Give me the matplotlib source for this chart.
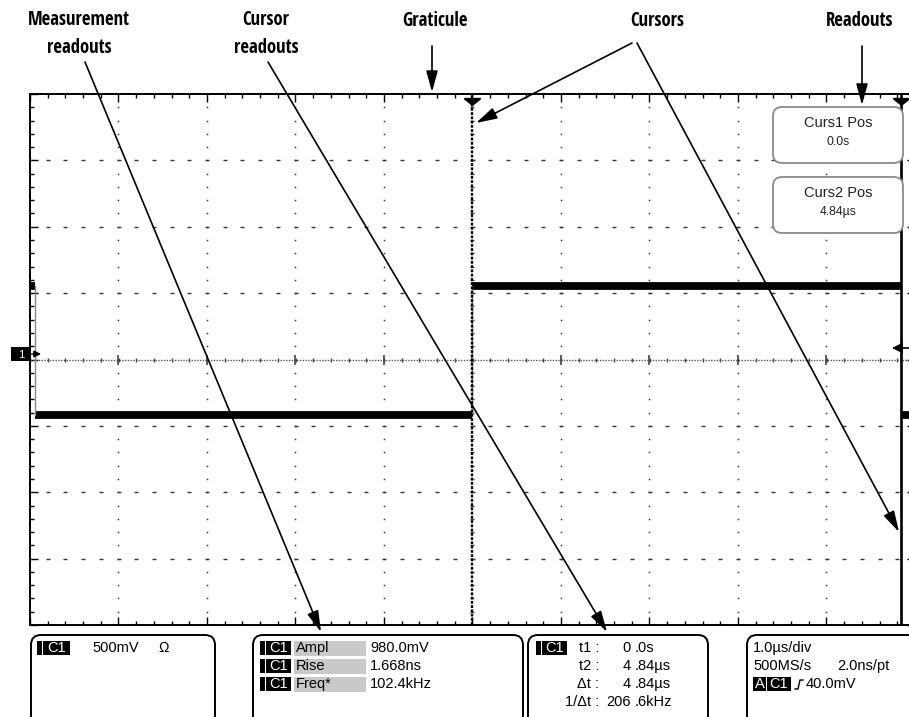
import numpy as np
import matplotlib
matplotlib.use("Agg")
import matplotlib.pyplot as plt
from matplotlib import font_manager
from matplotlib.patches import FancyBboxPatch, Rectangle

# ---------------- data ----------------
# waveform (time in µs = horizontal divisions, level in vertical divisions)
high_level = 1.10
low_level = -0.84
edge_times = [-4.94, 0.0, 4.84]          # fall, rise, fall
seg_start = [-5.0, -4.94, 0.0, 4.84]
seg_end = [-4.94, 0.0, 4.84, 5.0]
seg_level = [high_level, low_level, high_level, low_level]

cursor1_t = 0.0
cursor2_t = 4.84

callout_labels = ["Measurement\nreadouts", "Cursor\nreadouts", "Graticule", "Cursors", "Readouts"]

readout_titles = ["Curs1 Pos", "Curs2 Pos"]
readout_values = ["0.0s", "4.84\u00b5s"]

channel_label = "C1"
channel_scale = "500mV"
channel_coupling = "\u03a9"

meas_names = ["Ampl", "Rise", "Freq*"]
meas_values = ["980.0mV", "1.668ns", "102.4kHz"]

cursor_names = ["t1 :", "t2 :", "\u0394t :", "1/\u0394t :"]
cursor_values = ["0 .0s", "4 .84\u00b5s", "4 .84\u00b5s", "206 .6kHz"]

timebase = "1.0\u00b5s/div"
sample_rate = "500MS/s"
sample_interval = "2.0ns/pt"
trig_value = "40.0mV"

# ---------------- fonts ----------------
names = sorted({f.name for f in font_manager.fontManager.ttflist})
narrow = [n for n in names if ("Narrow" in n or "Condensed" in n)]
pref = [n for n in ["Liberation Sans Narrow", "Open Sans Condensed", "Roboto Condensed",
                    "DejaVu Sans Condensed"] if n in names] + narrow
bold_family = (pref[:1] if pref else []) + ["Liberation Sans", "DejaVu Sans"]
reg = ["Liberation Sans", "DejaVu Sans"]

# ---------------- figure ----------------
W, H = 909, 717
fig = plt.figure(figsize=(W / 100, H / 100), dpi=100)
fig.patch.set_facecolor("white")

left_px, right_px, top_px, bot_px = 30, 915, 94, 625
ax = fig.add_axes([left_px / W, (H - bot_px) / H, (right_px - left_px) / W, (bot_px - top_px) / H])
ax.set_xlim(-5, 5)
ax.set_ylim(-4, 4)
ax.set_facecolor("none")
for s in ax.spines.values():
    s.set_linewidth(1.4)
    s.set_color("black")

ax.set_xticks(np.arange(-5, 5.01, 1))
ax.set_yticks(np.arange(-4, 4.01, 1))
ax.set_xticks(np.arange(-5, 5.01, 0.2), minor=True)
ax.set_yticks(np.arange(-4, 4.01, 0.2), minor=True)
ax.tick_params(which="both", direction="in", top=True, bottom=True, left=True, right=True,
               labelbottom=False, labelleft=False, color="black")
ax.tick_params(which="major", length=5.5, width=1.0)
ax.tick_params(which="minor", length=2.8, width=1.0)

major_x = np.arange(-4, 4.01, 1)
major_y = np.arange(-3, 3.01, 1)
minor_x = np.arange(-5, 5.01, 0.2)
minor_y = np.arange(-4, 4.01, 0.2)

dot_color = "#333333"
for mx in major_x:
    if abs(mx) < 1e-9:
        continue
    ax.plot(np.full_like(minor_y, mx), minor_y, ls="none", marker="s", ms=1.1,
            color=dot_color, mew=0)
for my in major_y:
    if abs(my) < 1e-9:
        continue
    ax.plot(minor_x, np.full_like(minor_x, my), ls="none", marker="_", ms=2.4,
            color=dot_color, mew=1.0)

# center crosshair
ax.plot([-5, 5], [0, 0], color="#555555", lw=1.0, ls=(0, (1, 1)))
ax.plot(minor_x, np.zeros_like(minor_x), ls="none", marker="|", ms=3.5, color="#444444", mew=1.0)
ax.plot(major_x, np.zeros_like(major_x), ls="none", marker="|", ms=7, color="#444444", mew=1.2)
ax.plot(np.zeros_like(minor_y), minor_y, ls="none", marker="_", ms=3.5, color="#444444", mew=1.0)

# waveform: thick level segments, thin transitions
for t0, t1, lv in zip(seg_start, seg_end, seg_level):
    ax.plot([t0, t1], [lv, lv], color="black", lw=5.6, solid_capstyle="butt")
for et in edge_times:
    ax.plot([et, et], [low_level, high_level], color="#888888", lw=1.0)

# cursors
ax.plot([cursor1_t, cursor1_t], [-4, 4], color="black", lw=1.7, ls=(0, (1.2, 0.6)))
ax.plot([cursor2_t, cursor2_t], [-4, 4], color="black", lw=1.9)
tri = [(-1, 0.2), (1, 0.2), (1, 0), (0, -0.8), (-1, 0)]
ax.plot([cursor1_t, cursor2_t], [3.92, 3.92], ls="none", marker=tri, ms=12, color="black",
        mew=0, clip_on=False)

# ---------------- overlay in pixel coordinates ----------------
ov = fig.add_axes([0, 0, 1, 1])
ov.set_xlim(0, W)
ov.set_ylim(H, 0)
ov.axis("off")
ov.patch.set_alpha(0)

bold_font = dict(family=bold_family, fontweight="bold", fontsize=13.5, color="black")

label_pos = [(79, 34), (266, 34), (435, 21), (657, 21), (860, 21)]
for txt, (x, y) in zip(callout_labels, label_pos):
    ov.text(x, y, txt, ha="center", va="center", linespacing=1.55, **bold_font)

arrow_kw = dict(arrowstyle="-|>,head_length=0.8,head_width=0.22", lw=1.2, color="black",
                shrinkA=0, shrinkB=0, mutation_scale=16)
callouts = [((85, 62), (321, 632)),
            ((268, 62), (607, 632)),
            ((432, 46), (432, 92)),
            ((632, 43), (476, 123)),
            ((637, 43), (899, 532)),
            ((862, 46), (862, 105))]
for (sx, sy), (tx, ty) in callouts:
    ov.annotate("", xy=(tx, ty), xytext=(sx, sy), arrowprops=arrow_kw)

# ground marker "1" and trigger level arrow
ov.add_patch(Rectangle((11, 347), 20, 14, facecolor="black", edgecolor="none"))
ov.text(21, 354.5, "1", color="white", ha="center", va="center", fontsize=8, family=reg)
ov.annotate("", xy=(41, 354), xytext=(31, 354),
            arrowprops=dict(arrowstyle="-|>,head_length=0.5,head_width=0.25", lw=1.0,
                            color="black", shrinkA=0, shrinkB=0, mutation_scale=8))
ov.annotate("", xy=(892, 348), xytext=(909, 348),
            arrowprops=dict(arrowstyle="-|>,head_length=0.6,head_width=0.3", lw=1.2,
                            color="black", shrinkA=0, shrinkB=0, mutation_scale=10))

# right-side readout boxes
for i, (ttl, val) in enumerate(zip(readout_titles, readout_values)):
    y0 = 107 + i * 70
    ov.add_patch(FancyBboxPatch((773, y0), 130, 56, boxstyle="round,pad=0,rounding_size=9",
                                facecolor="white", edgecolor="#8a8a8a", lw=1.3))
    ov.text(838, y0 + 16, ttl, ha="center", va="center", fontsize=10.5, family=reg, color="#222222")
    ov.text(838, y0 + 35, val, ha="center", va="center", fontsize=8.8, family=reg, color="#222222")

# bottom boxes
box_x = [(31, 215), (253, 523), (528, 708), (747, 930)]
for x0, x1 in box_x:
    ov.add_patch(FancyBboxPatch((x0, 635), x1 - x0, 100, boxstyle="round,pad=0,rounding_size=10",
                                facecolor="white", edgecolor="black", lw=1.4, clip_on=False))

fs = 10.5


def chan_tag(x, y, w=31, text=channel_label):
    ov.add_patch(Rectangle((x, y - 7), w, 14, facecolor="black", edgecolor="none"))
    ov.plot([x + 5, x + 5], [y - 7, y + 7], color="white", lw=0.8)
    ov.text(x + 7 + (w - 7) / 2, y + 0.5, text, color="white", ha="center", va="center",
            fontsize=fs, family=reg)


# box 1
chan_tag(37, 648, 33)
ov.text(92, 648, channel_scale, ha="left", va="center", fontsize=fs, family=reg)
ov.text(158, 648, channel_coupling, ha="left", va="center", fontsize=fs - 0.5, family=reg)

# box 2
for i, (nm, vl) in enumerate(zip(meas_names, meas_values)):
    y = 648 + i * 18
    chan_tag(260, y)
    ov.add_patch(Rectangle((294, y - 7.5), 72, 15, facecolor="#c9c9c9", edgecolor="none"))
    ov.text(296, y, nm, ha="left", va="center", fontsize=fs, family=reg)
    ov.text(370, y, vl, ha="left", va="center", fontsize=fs, family=reg)

# box 3
chan_tag(536, 648)
for i, (nm, vl) in enumerate(zip(cursor_names, cursor_values)):
    y = 648 + i * 18
    ip, fp = vl.split(" ")
    ov.text(599, y, nm, ha="right", va="center", fontsize=fs, family=reg)
    ov.text(631, y, ip, ha="right", va="center", fontsize=fs, family=reg)
    ov.text(635, y, fp, ha="left", va="center", fontsize=fs, family=reg)

# box 4
ov.text(753, 648, timebase, ha="left", va="center", fontsize=fs, family=reg)
ov.text(753, 666, sample_rate, ha="left", va="center", fontsize=fs, family=reg)
ov.text(837, 666, sample_interval, ha="left", va="center", fontsize=fs, family=reg)
ov.add_patch(Rectangle((753, 677), 13, 14, facecolor="black", edgecolor="none"))
ov.text(759.5, 684.5, "A", color="white", ha="center", va="center", fontsize=fs, family=reg)
ov.add_patch(Rectangle((767, 677), 24, 14, facecolor="black", edgecolor="none"))
ov.text(779, 684.5, channel_label, color="white", ha="center", va="center", fontsize=fs, family=reg)
ov.plot([795, 798, 800, 803], [689, 689, 680, 680], color="black", lw=1.0)
ov.text(806, 684, trig_value, ha="left", va="center", fontsize=fs, family=reg)

fig.savefig("out.png", dpi=100, facecolor="white")
